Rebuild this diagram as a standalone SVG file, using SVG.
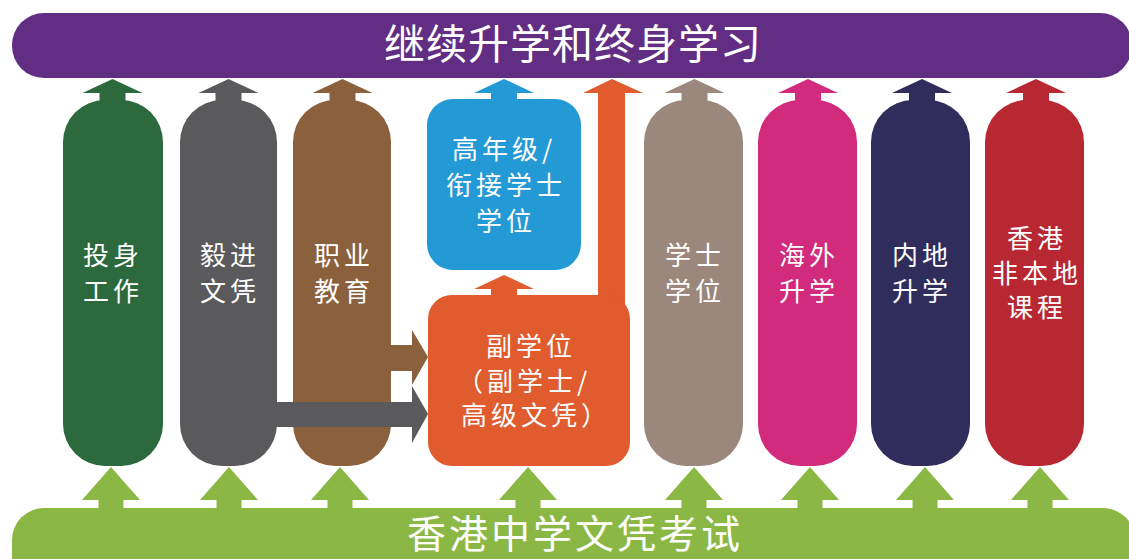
<svg xmlns="http://www.w3.org/2000/svg" xmlns:xlink="http://www.w3.org/1999/xlink" width="1129" height="559" viewBox="0 0 1129 559">
<style>
text{font-family:"Noto Sans CJK SC","Noto Sans",sans-serif;fill:#ffffff;text-anchor:middle}
.lbl{font-size:26px;letter-spacing:4px}
.big{font-size:41px;letter-spacing:1px}
.big2{font-size:39px;letter-spacing:3px}
</style>
<defs>
<path id="upTop" d="M0,0 L30,14 L13,14 L13,22 L-13,22 L-13,14 L-30,14 Z"/>
<path id="upBot" d="M0,0 L29,33 L12.5,33 L12.5,43 L-12.5,43 L-12.5,33 L-29,33 Z"/>
</defs>
<rect width="1129" height="559" fill="#ffffff"/>
<g id="bar-top">
<rect x="12" y="13" width="1120" height="65" rx="32" fill="#622e83"/>
<text class="big" x="573" y="59">继续升学和终身学习</text>
</g>
<g id="bar-bottom">
<rect x="12" y="508" width="1123" height="80" rx="32" fill="#8bb845"/>
<text class="big2" x="575" y="548">香港中学文凭考试</text>
</g>
<g id="connectors">
<use href="#upTop" x="112.5" y="79" fill="#2c6a3d"/>
<use href="#upTop" x="228.5" y="79" fill="#5a5a5c"/>
<use href="#upTop" x="342.5" y="79" fill="#8b603d"/>
<use href="#upTop" x="504" y="79" fill="#2399d6"/>
<use href="#upTop" x="694.5" y="79" fill="#9b877b"/>
<use href="#upTop" x="808" y="79" fill="#d22a7d"/>
<use href="#upTop" x="922" y="79" fill="#302d5c"/>
<use href="#upTop" x="1036" y="79" fill="#b82833"/>
<use href="#upTop" x="504" y="275" fill="#e05b2d"/>
<path d="M612,79 L643,93 L625,93 L625,310 L598,310 L598,93 L583,93 Z" fill="#e05b2d"/>
<use href="#upBot" x="111" y="467" fill="#8bb845"/>
<use href="#upBot" x="229" y="467" fill="#8bb845"/>
<use href="#upBot" x="340" y="467" fill="#8bb845"/>
<use href="#upBot" x="528" y="467" fill="#8bb845"/>
<use href="#upBot" x="694" y="467" fill="#8bb845"/>
<use href="#upBot" x="810" y="467" fill="#8bb845"/>
<use href="#upBot" x="925" y="467" fill="#8bb845"/>
<use href="#upBot" x="1040" y="467" fill="#8bb845"/>
</g>
<g id="node-work">
<rect x="63" y="100" width="100" height="366" rx="42" fill="#2c6a3d"/>
<text class="lbl" x="113" y="265">投身</text>
<text class="lbl" x="113" y="301">工作</text>
</g>
<g id="node-yijin">
<rect x="180" y="100" width="97" height="366" rx="42" fill="#5a5a5c"/>
<text class="lbl" x="230" y="265">毅进</text>
<text class="lbl" x="230" y="301">文凭</text>
</g>
<g id="node-vocational">
<rect x="293" y="100" width="98" height="366" rx="42" fill="#8b603d"/>
<text class="lbl" x="344" y="265">职业</text>
<text class="lbl" x="344" y="301">教育</text>
</g>
<g id="connectors-side">
<path d="M385,345 L412,345 L412,330 L428,357 L412,385 L412,371 L385,371 Z" fill="#8b603d"/>
<path d="M270,402 L412,402 L412,386 L428,414 L412,443 L412,427 L270,427 Z" fill="#5a5a5c"/>
</g>
<g id="node-topup">
<rect x="427" y="99" width="154" height="171" rx="26" fill="#2399d6"/>
<text class="lbl" x="504" y="159">高年级/</text>
<text class="lbl" x="506" y="195">衔接学士</text>
<text class="lbl" x="506" y="231">学位</text>
</g>
<g id="node-subdegree">
<rect x="428" y="295" width="202" height="171" rx="24" fill="#e05b2d"/>
<text class="lbl" x="531" y="356">副学位</text>
<text class="lbl" x="524" y="391">（副学士/</text>
<text class="lbl" x="536" y="425">高级文凭）</text>
</g>
<g id="node-degree">
<rect x="644" y="100" width="99" height="366" rx="42" fill="#9b877b"/>
<text class="lbl" x="695" y="265">学士</text>
<text class="lbl" x="695" y="301">学位</text>
</g>
<g id="node-overseas">
<rect x="758" y="100" width="99" height="366" rx="42" fill="#d22a7d"/>
<text class="lbl" x="809" y="265">海外</text>
<text class="lbl" x="809" y="301">升学</text>
</g>
<g id="node-mainland">
<rect x="871" y="100" width="99" height="366" rx="42" fill="#302d5c"/>
<text class="lbl" x="922" y="265">内地</text>
<text class="lbl" x="922" y="301">升学</text>
</g>
<g id="node-nonlocal">
<rect x="985" y="100" width="99" height="366" rx="42" fill="#b82833"/>
<text class="lbl" x="1037" y="248">香港</text>
<text class="lbl" x="1037" y="283">非本地</text>
<text class="lbl" x="1037" y="317">课程</text>
</g>
</svg>
